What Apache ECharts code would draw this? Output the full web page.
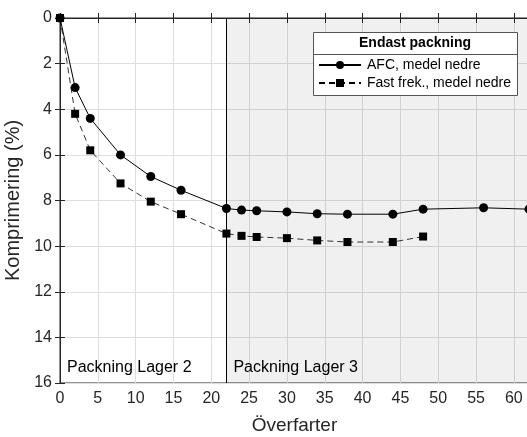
<!DOCTYPE html>
<html>
<head>
<meta charset="utf-8">
<script src="https://cdn.jsdelivr.net/npm/echarts@6/dist/echarts.min.js"></script>
<style>
  html, body { margin: 0; padding: 0; background: #fff; }
  #chart { width: 527px; height: 437px; }
</style>
</head>
<body>
<div id="chart"></div>
<script>
// AFC, medel nedre
var afcX = [0, 2, 4, 8, 12, 16, 22, 24, 26, 30, 34, 38, 44, 48, 56, 62];
var afcY = [0, 3.05, 4.4, 6.0, 6.95, 7.55, 8.35, 8.42, 8.45, 8.5, 8.58, 8.6, 8.6, 8.38, 8.32, 8.38];
// Fast frek., medel nedre
var fastX = [0, 2, 4, 8, 12, 16, 22, 24, 26, 30, 34, 38, 44, 48];
var fastY = [0, 4.2, 5.8, 7.25, 8.05, 8.6, 9.45, 9.55, 9.6, 9.65, 9.75, 9.82, 9.82, 9.58];
var lagerGrans = 22;
var xMax = 62;

var font = 'Liberation Sans, Arial, sans-serif';
var txt = '#262626';

function pairs(xs, ys) {
  return xs.map(function (x, i) { return [x, ys[i]]; });
}

var chart = echarts.init(document.getElementById('chart'));
var option = {
  animation: false,
  textStyle: { fontFamily: font },
  grid: {
    left: 60, top: 18, width: 469, height: 365,
    outerBoundsMode: 'none', containLabel: false,
    show: true, borderColor: txt, borderWidth: 1, backgroundColor: '#fff'
  },
  legend: {
    orient: 'vertical',
    left: 318, top: 58, z: 120,
    itemWidth: 42, itemHeight: 10, itemGap: 4,
    padding: 0,
    textStyle: { fontSize: 14, color: '#000', fontFamily: font, padding: [0, 0, 0, 1] },
    data: ['AFC, medel nedre', 'Fast frek., medel nedre']
  },
  graphic: [
    { type: 'rect', z: 100, shape: { x: 313.5, y: 32.5, width: 204, height: 63 },
      style: { fill: '#fff', stroke: '#555', lineWidth: 1 } },
    { type: 'line', z: 101, shape: { x1: 313.5, y1: 54.5, x2: 517.5, y2: 54.5 },
      style: { stroke: '#555', lineWidth: 1 } },
    { type: 'text', z: 101, left: 359, top: 36,
      style: { text: 'Endast packning', fontSize: 14, fontWeight: 'bold', fill: '#000', fontFamily: font } }
  ],
  xAxis: [{
    type: 'value', min: 0, max: xMax, interval: 5,
    name: 'Överfarter', nameLocation: 'middle', nameGap: 33,
    nameTextStyle: { fontSize: 19, color: txt },
    axisLine: { show: true, lineStyle: { color: txt } },
    axisTick: { inside: true, length: 5, lineStyle: { color: txt } },
    axisLabel: { fontSize: 16, color: txt, margin: 8, showMaxLabel: false },
    splitLine: { show: true, lineStyle: { color: '#dedede' } }
  }, {
    type: 'value', min: 0, max: xMax, interval: 5, position: 'top',
    axisLine: { show: true, lineStyle: { color: txt } },
    axisTick: { inside: true, length: 5, lineStyle: { color: txt } },
    axisLabel: { show: false },
    splitLine: { show: false }
  }],
  yAxis: [{
    type: 'value', min: 0, max: 16, interval: 2, inverse: true,
    name: 'Komprimering (%)', nameLocation: 'middle', nameGap: 29,
    nameTextStyle: { fontSize: 20, color: txt },
    axisLine: { show: true, lineStyle: { color: txt } },
    axisTick: { show: true, inside: true, length: 5, lineStyle: { color: txt } },
    axisLabel: { fontSize: 16, color: txt, margin: 8 },
    splitLine: { show: true, lineStyle: { color: '#dedede' } }
  }, {
    type: 'value', min: 0, max: 16, interval: 2, inverse: true, position: 'right',
    axisLine: { show: true, lineStyle: { color: txt } },
    axisTick: { show: true, inside: true, length: 5, lineStyle: { color: txt } },
    axisLabel: { show: false },
    splitLine: { show: false }
  }],
  series: [{
    name: 'AFC, medel nedre',
    type: 'line',
    data: pairs(afcX, afcY),
    symbol: 'circle', symbolSize: 9,
    itemStyle: { color: '#000' },
    lineStyle: { color: '#000', width: 1 },
    z: 5,
    markArea: {
      silent: true,
      label: {
        show: true, position: 'insideBottomLeft', distance: 7,
        fontSize: 16, color: '#000', fontFamily: font
      },
      data: [
        [{ name: 'Packning Lager 2', xAxis: 0, yAxis: 0, itemStyle: { color: 'rgba(0,0,0,0)' } },
         { xAxis: lagerGrans, yAxis: 16 }],
        [{ name: 'Packning Lager 3', xAxis: lagerGrans, yAxis: 0, itemStyle: { color: 'rgba(0,0,0,0.06)' } },
         { xAxis: xMax, yAxis: 16 }]
      ]
    },
    markLine: {
      silent: true, symbol: 'none',
      label: { show: false },
      lineStyle: { color: '#000', type: 'solid', width: 1 },
      data: [{ xAxis: lagerGrans }]
    }
  }, {
    name: 'Fast frek., medel nedre',
    type: 'line',
    data: pairs(fastX, fastY),
    symbol: 'rect', symbolSize: 8,
    itemStyle: { color: '#000' },
    lineStyle: { color: '#000', width: 0.8, type: [6, 4] },
    z: 4
  }]
};
chart.setOption(option);
</script>
</body>
</html>
